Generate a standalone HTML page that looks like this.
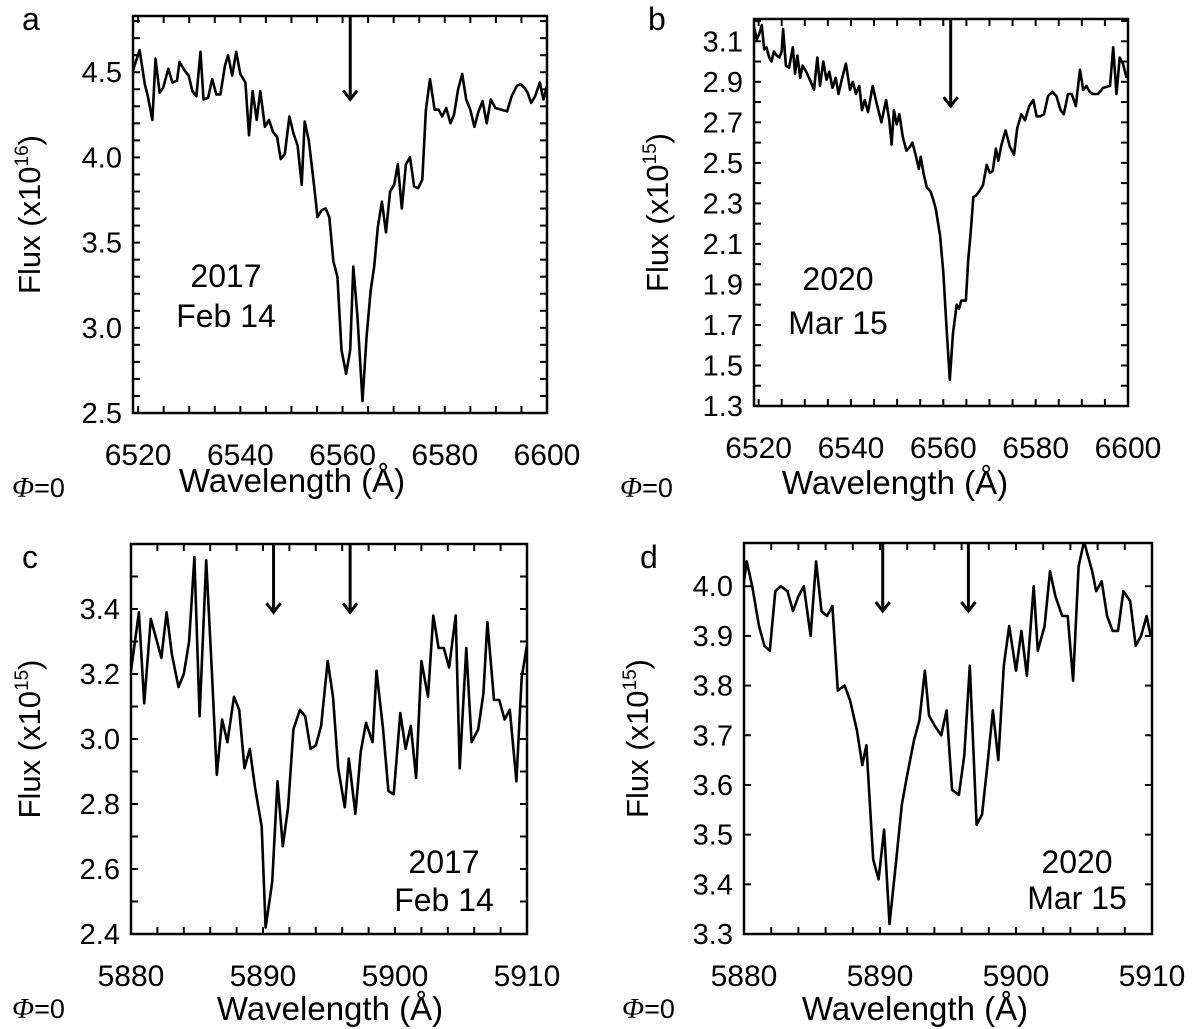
<!DOCTYPE html>
<html><head><meta charset="utf-8"><style>
body{margin:0;background:#fff;}
svg{display:block;font-family:"Liberation Sans",Arial,sans-serif;}
</style></head><body>
<svg id="fig" width="1200" height="1029" viewBox="0 0 1200 1029"></svg>
<script>
// Panel a data
const aWave=[6519.0,6520.3,6521.3,6521.9,6522.8,6523.4,6524.2,6524.9,6525.9,6526.7,6527.6,6528.1,6529.1,6529.9,6530.6,6531.4,6532.2,6532.8,6533.7,6534.5,6535.3,6536.1,6537.0,6537.6,6538.4,6539.2,6540.0,6541.0,6541.7,6542.4,6543.2,6543.9,6544.8,6545.6,6546.4,6547.2,6547.9,6548.7,6549.6,6550.4,6551.2,6552.0,6552.6,6553.4,6554.3,6555.1,6555.9,6556.7,6557.4,6558.2,6559.0,6559.8,6560.7,6561.5,6562.1,6562.9,6563.9,6564.7,6565.5,6566.2,6566.9,6567.7,6568.5,6569.3,6570.1,6570.8,6571.6,6572.4,6573.2,6574.0,6574.8,6575.6,6576.3,6577.1,6578.0,6578.8,6579.5,6580.3,6581.1,6581.8,6582.6,6583.4,6584.2,6585.0,6585.8,6586.6,6587.4,6588.2,6589.0,6589.9,6592.2,6593.1,6594.1,6594.8,6595.6,6596.2,6596.9,6597.7,6598.6,6599.3,6600.0];
const aFlux=[4.51,4.63,4.43,4.36,4.22,4.58,4.38,4.41,4.52,4.44,4.45,4.56,4.51,4.48,4.39,4.36,4.62,4.34,4.35,4.46,4.37,4.37,4.54,4.60,4.48,4.62,4.49,4.44,4.13,4.39,4.22,4.39,4.18,4.22,4.15,4.12,3.99,4.02,4.24,4.14,4.07,3.84,4.21,4.10,3.87,3.65,3.69,3.70,3.65,3.39,3.30,2.87,2.73,2.87,3.36,3.07,2.57,2.95,3.22,3.36,3.59,3.74,3.56,3.80,3.84,3.96,3.70,3.96,4.00,3.83,3.82,3.87,4.28,4.46,4.28,4.28,4.24,4.29,4.20,4.25,4.40,4.49,4.34,4.28,4.18,4.27,4.33,4.20,4.34,4.29,4.27,4.36,4.42,4.43,4.41,4.38,4.32,4.36,4.44,4.34,4.42];
const aXTicks=[6520,6540,6560,6580,6600];
const aYTicks=[2.5,3.0,3.5,4.0,4.5];
const aArrows=[6561.5];
// Panel b data
const bWave=[6519.0,6519.6,6520.2,6520.7,6521.2,6521.7,6522.3,6522.8,6523.3,6523.9,6524.5,6525.0,6525.3,6525.9,6526.6,6527.4,6527.9,6528.4,6529.0,6529.5,6530.3,6531.1,6532.0,6532.7,6533.3,6534.0,6534.7,6535.3,6536.0,6536.7,6537.3,6538.0,6538.9,6539.8,6540.4,6541.1,6541.8,6542.4,6543.0,6543.7,6544.7,6545.6,6546.6,6547.6,6548.3,6548.8,6549.3,6549.9,6550.5,6551.2,6552.0,6552.8,6553.3,6554.1,6554.7,6555.1,6555.7,6556.4,6557.2,6557.8,6558.4,6559.3,6560.0,6560.7,6561.4,6562.1,6562.9,6563.4,6563.9,6564.9,6565.4,6565.9,6566.5,6567.1,6567.8,6568.6,6569.4,6570.1,6570.7,6571.4,6571.9,6572.6,6573.5,6574.4,6575.3,6576.0,6576.9,6577.7,6578.6,6579.5,6580.2,6581.0,6581.8,6582.7,6583.6,6584.5,6585.4,6586.1,6587.0,6587.8,6588.7,6589.6,6590.3,6591.0,6591.7,6592.4,6593.5,6594.6,6596.1,6596.8,6597.5,6598.2,6598.9,6599.7];
const bFlux=[3.17,3.11,3.14,3.18,3.06,3.07,3.02,3.00,3.05,3.03,3.02,3.05,3.16,2.98,2.97,3.07,2.94,3.03,2.92,2.98,2.95,2.91,2.86,3.02,2.88,3.00,2.91,2.95,2.87,2.92,2.84,2.91,2.99,2.86,2.90,2.84,2.88,2.76,2.81,2.75,2.88,2.79,2.70,2.81,2.71,2.59,2.76,2.69,2.74,2.63,2.56,2.58,2.60,2.53,2.47,2.53,2.45,2.38,2.36,2.32,2.27,2.14,1.96,1.69,1.43,1.66,1.80,1.78,1.82,1.82,2.02,2.15,2.33,2.34,2.36,2.39,2.49,2.45,2.46,2.57,2.51,2.59,2.66,2.58,2.54,2.67,2.74,2.71,2.78,2.81,2.73,2.73,2.74,2.83,2.85,2.83,2.76,2.74,2.84,2.84,2.78,2.96,2.86,2.88,2.85,2.84,2.84,2.87,2.88,3.07,2.84,3.02,2.99,2.92];
const bXTicks=[6520,6540,6560,6580,6600];
const bYTicks=[1.3,1.5,1.7,1.9,2.1,2.3,2.5,2.7,2.9,3.1];
const bArrows=[6561.6];
// Panel c data
const cWave=[5880.0,5880.6,5881.0,5881.5,5881.9,5882.3,5882.7,5883.1,5883.6,5884.0,5884.4,5884.8,5885.2,5885.7,5886.1,5886.5,5886.9,5887.3,5887.8,5888.2,5888.6,5889.0,5889.4,5889.9,5890.2,5890.7,5891.1,5891.5,5891.9,5892.3,5892.8,5893.2,5893.6,5894.0,5894.4,5894.9,5895.3,5895.7,5896.2,5896.5,5897.0,5897.4,5897.8,5898.3,5898.6,5899.1,5899.5,5899.9,5900.4,5900.8,5901.2,5901.6,5902.0,5902.5,5902.9,5903.3,5903.7,5904.1,5904.6,5904.9,5905.4,5905.8,5906.3,5906.7,5907.0,5907.5,5907.9,5908.3,5908.7,5909.2,5909.6,5910.0];
const cFlux=[3.21,3.39,3.11,3.37,3.31,3.25,3.39,3.26,3.16,3.20,3.30,3.56,3.07,3.55,3.23,2.89,3.06,2.99,3.13,3.09,2.91,2.97,2.85,2.73,2.42,2.56,2.87,2.67,2.79,3.03,3.09,3.07,2.97,2.98,3.04,3.24,3.13,2.91,2.79,2.94,2.77,2.96,3.05,2.99,3.21,3.03,2.84,2.83,3.08,2.97,3.04,2.88,3.24,3.13,3.38,3.28,3.28,3.22,3.38,2.91,3.28,2.99,3.03,3.14,3.36,3.12,3.12,3.06,3.09,2.87,3.19,3.29];
const cXTicks=[5880,5890,5900,5910];
const cYTicks=[2.4,2.6,2.8,3.0,3.2,3.4];
const cArrows=[5890.8,5896.6];
// Panel d data
const dWave=[5880.0,5880.2,5880.6,5881.1,5881.5,5881.9,5882.3,5882.7,5883.2,5883.6,5884.0,5884.4,5884.9,5885.3,5885.7,5886.1,5886.5,5886.9,5887.4,5887.8,5888.3,5888.7,5889.0,5889.5,5889.9,5890.3,5890.7,5891.2,5891.6,5892.0,5892.5,5892.9,5893.3,5893.6,5894.0,5894.5,5894.9,5895.3,5895.8,5896.2,5896.6,5897.1,5897.5,5897.9,5898.3,5898.7,5899.1,5899.5,5900.0,5900.4,5900.8,5901.3,5901.6,5902.1,5902.5,5902.9,5903.4,5903.8,5904.2,5904.6,5905.0,5905.6,5905.9,5906.3,5906.7,5907.1,5907.5,5907.9,5908.4,5908.8,5909.2,5909.6,5909.9];
const dFlux=[4.01,4.05,4.00,3.92,3.88,3.87,3.99,4.00,3.99,3.95,3.98,4.00,3.90,4.05,3.95,3.94,3.96,3.79,3.80,3.77,3.71,3.64,3.68,3.45,3.41,3.51,3.32,3.45,3.56,3.62,3.69,3.73,3.83,3.74,3.72,3.70,3.75,3.59,3.58,3.66,3.84,3.52,3.54,3.64,3.75,3.65,3.84,3.92,3.83,3.91,3.82,4.00,3.87,3.92,4.03,3.98,3.94,3.94,3.81,4.04,4.09,4.03,3.99,4.01,3.94,3.91,3.91,3.99,3.97,3.88,3.90,3.94,3.90];
const dXTicks=[5880,5890,5900,5910];
const dYTicks=[3.3,3.4,3.5,3.6,3.7,3.8,3.9,4.0];
const dArrows=[5890.2,5896.5];

const NS='http://www.w3.org/2000/svg';
const svg=document.getElementById('fig');
function mk(tag,attrs,parent){const e=document.createElementNS(NS,tag);for(const k in attrs)e.setAttribute(k,attrs[k]);(parent||svg).appendChild(e);return e;}

const panels=[
 {id:'a',L:133,R:547,T:16,B:413,x0:6519,x1:6600,y0:2.5,y1:4.83,xm:5,ym:0.1,dec:1,wave:aWave,flux:aFlux,xt:aXTicks,yt:aYTicks,arrows:aArrows,arrowTip:4.34,letter:[22,30],exp:'16',ylx:40,xtitle:[292,492],phi:[12,497],date:['2017','Feb 14'],dpos:[226,287,327]},
 {id:'b',L:754,R:1128,T:19,B:406,x0:6519,x1:6600,y0:1.3,y1:3.21,xm:5,ym:0.1,dec:1,wave:bWave,flux:bFlux,xt:bXTicks,yt:bYTicks,arrows:bArrows,arrowTip:2.78,letter:[648,30],exp:'15',ylx:668,xtitle:[895,494],phi:[620,497],date:['2020','Mar 15'],dpos:[838,290,334]},
 {id:'c',L:131,R:527,T:544,B:934,x0:5880,x1:5910,y0:2.4,y1:3.6,xm:2,ym:0.1,dec:1,wave:cWave,flux:cFlux,xt:cXTicks,yt:cYTicks,arrows:cArrows,arrowTip:3.39,letter:[22,568],exp:'15',ylx:40,xtitle:[330,1020],phi:[12,1018],date:['2017','Feb 14'],dpos:[444,873,911]},
 {id:'d',L:744,R:1152,T:543,B:934,x0:5880,x1:5910,y0:3.3,y1:4.087,xm:2,ym:0.1,dec:1,wave:dWave,flux:dFlux,xt:dXTicks,yt:dYTicks,arrows:dArrows,arrowTip:3.95,letter:[640,568],exp:'15',ylx:648,xtitle:[915,1020],phi:[622,1018],date:['2020','Mar 15'],dpos:[1077,873,909]}
];

panels.forEach(p=>{
 const sx=v=>p.L+(v-p.x0)/(p.x1-p.x0)*(p.R-p.L);
 const sy=v=>p.B-(v-p.y0)/(p.y1-p.y0)*(p.B-p.T);
 const g=mk('g',{});
 
 
 const clipId='clip-'+p.id;
 const cp=mk('clipPath',{id:clipId},g);mk('rect',{x:p.L,y:p.T,width:p.R-p.L,height:p.B-p.T},cp);
 const tk=mk('g',{stroke:'#000','stroke-width':2},g);
 
 
 for(let v=Math.ceil(p.x0/p.xm)*p.xm;v<=p.x1+1e-6;v+=p.xm){const x=sx(v);mk('line',{x1:x,x2:x,y1:p.B,y2:p.B-7},tk);mk('line',{x1:x,x2:x,y1:p.T,y2:p.T+7},tk);}
 for(let i=Math.ceil(p.y0/p.ym-1e-6);i*p.ym<=p.y1+1e-6;i++){const y=sy(i*p.ym);mk('line',{x1:p.L,x2:p.L+7,y1:y,y2:y},tk);mk('line',{x1:p.R,x2:p.R-7,y1:y,y2:y},tk);}
 const fr=mk('rect',{x:p.L,y:p.T,width:p.R-p.L,height:p.B-p.T,fill:'none',stroke:'#000','stroke-width':2.5},g);
 
 
 const pts=p.wave.map((w,i)=>sx(w).toFixed(1)+','+sy(p.flux[i]).toFixed(1)).join(' ');
 const ln=mk('polyline',{points:pts,fill:'none',stroke:'#000','stroke-width':2.6,'stroke-linejoin':'round','clip-path':'url(#'+clipId+')'},g);
 
 
 p.arrows.forEach(a=>{
  const x=sx(a),yt=sy(p.arrowTip);
  const ag=mk('g',{stroke:'#000','stroke-width':3,fill:'none'},g);
  
  
  mk('line',{x1:x,x2:x,y1:p.T,y2:yt},ag);
  mk('polyline',{points:(x-7)+','+(yt-9)+' '+x+','+yt+' '+(x+7)+','+(yt-9)},ag);
 });
 p.xt.forEach(v=>{const t=mk('text',{x:sx(v),y:p.B+52,'font-size':30,'text-anchor':'middle'},g);t.textContent=v;
  
  });
 p.yt.forEach(v=>{const t=mk('text',{x:p.L-11,y:sy(v)+10,'font-size':29,'text-anchor':'end'},g);t.textContent=v.toFixed(p.dec);
  
  });
 const lt=mk('text',{x:p.letter[0],y:p.letter[1],'font-size':32},g);lt.textContent=p.id;
 
 
 const cy=(p.T+p.B)/2;
 const yt=mk('text',{x:p.ylx,y:cy,'font-size':31,'text-anchor':'middle',transform:'rotate(-90 '+p.ylx+' '+cy+')'},g);
 
 
 yt.appendChild(document.createTextNode('Flux (x10'));
 const sp=mk('tspan',{'font-size':19,dy:-12},yt);sp.textContent=p.exp;
 const sp2=mk('tspan',{dy:12},yt);sp2.textContent=')';
 const xt=mk('text',{x:p.xtitle[0],y:p.xtitle[1],'font-size':33,'text-anchor':'middle'},g);xt.textContent='Wavelength (Å)';
 
 
 const ph=mk('text',{x:p.phi[0],y:p.phi[1],'font-size':27},g);
 
 
 const pi=mk('tspan',{'font-style':'italic','font-family':'Liberation Serif, serif','font-size':29},ph);pi.textContent='Φ';
 const pe=mk('tspan',{},ph);pe.textContent='=0';
 const d1=mk('text',{x:p.dpos[0],y:p.dpos[1],'font-size':32,'text-anchor':'middle'},g);d1.textContent=p.date[0];
 
 
 const d2=mk('text',{x:p.dpos[0],y:p.dpos[2],'font-size':32,'text-anchor':'middle'},g);d2.textContent=p.date[1];
 
 
});
</script>
</body></html>
